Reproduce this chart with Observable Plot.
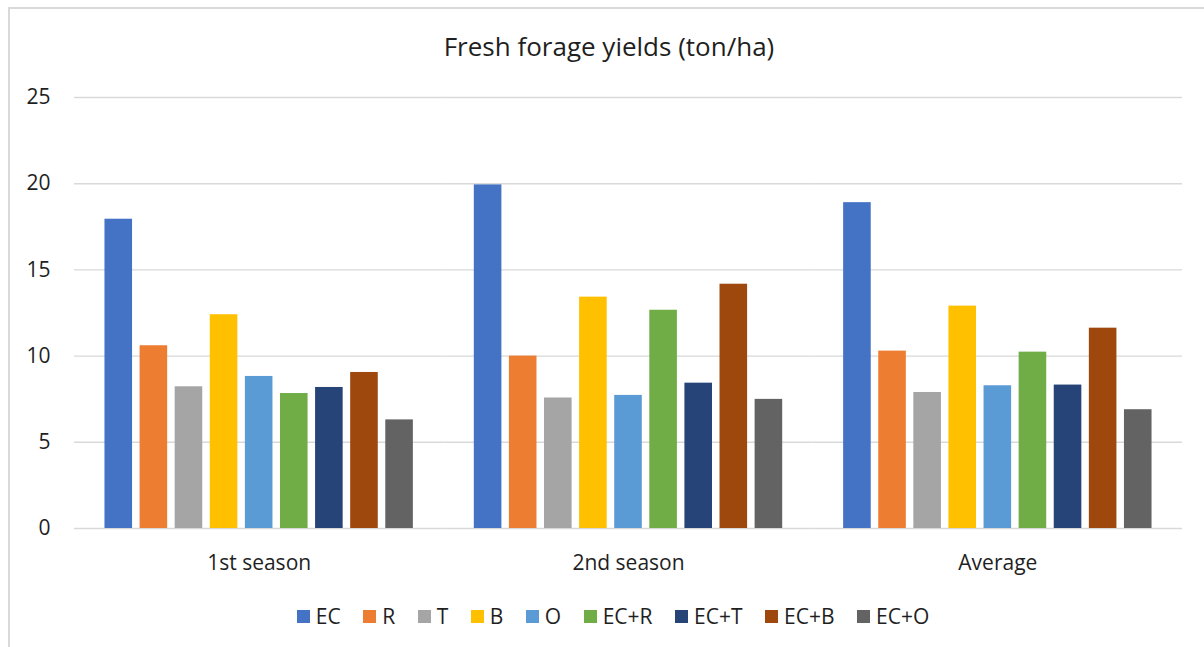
<!DOCTYPE html>
<html>
<head>
<meta charset="utf-8">
<script src="https://cdn.jsdelivr.net/npm/d3@7"></script>
<script src="https://cdn.jsdelivr.net/npm/@observablehq/plot@0.6"></script>
<style>
  html, body { margin: 0; padding: 0; background: #fff; }
  body { width: 1204px; height: 647px; position: relative; overflow: hidden; font-family: "Open Sans", sans-serif; color: #1f1f1f; }
  #frame { position: absolute; left: 8px; top: 7px; width: 1300px; height: 700px; border-top: 2px solid #d9d9d9; border-left: 2px solid #d9d9d9; }
  #title { position: absolute; left: 309px; width: 600px; top: 33px; text-align: center; font-size: 26px; line-height: 26px; white-space: nowrap; }
  #chart { position: absolute; left: 0; top: 70px; }
  #legend { position: absolute; left: 263px; width: 700px; top: 604px; display: flex; justify-content: center; align-items: center; font-size: 21px; line-height: 24px; white-space: nowrap; }
  .item { display: flex; align-items: center; margin: 0 11.25px; }
  .sw { width: 13px; height: 13px; margin-right: 6px; }
</style>
</head>
<body>
<div id="frame"></div>
<div id="title">Fresh forage yields (ton/ha)</div>
<div id="chart"></div>
<div id="legend"></div>
<script>
const seasons = ["1st season", "2nd season", "Average"];
const series = ["EC", "R", "T", "B", "O", "EC+R", "EC+T", "EC+B", "EC+O"];
const colors = ["#4472C4", "#ED7D31", "#A5A5A5", "#FFC000", "#5B9BD5", "#70AD47", "#264478", "#9E480E", "#636363"];
const firstSeason = [17.94, 10.6, 8.22, 12.4, 8.82, 7.83, 8.18, 9.05, 6.3];
const secondSeason = [19.93, 10.0, 7.57, 13.42, 7.72, 12.66, 8.43, 14.17, 7.49];
const average = [18.9, 10.29, 7.89, 12.9, 8.28, 10.23, 8.32, 11.62, 6.89];
const yTicks = [0, 5, 10, 15, 20, 25];

const valuesBySeason = [firstSeason, secondSeason, average];
const data = [];
seasons.forEach((s, i) => series.forEach((k, j) => data.push({season: s, series: k, value: valuesBySeason[i][j]})));

const chart = Plot.plot({
  width: 1204,
  height: 530,
  marginTop: 27,
  marginBottom: 72,
  marginLeft: 74,
  marginRight: 22,
  style: {fontFamily: "Open Sans", fontSize: "21px", color: "#1f1f1f", background: "transparent"},
  fx: {domain: seasons, padding: 0, round: false, label: null, axis: "bottom", tickSize: 0, tickPadding: 27},
  x: {domain: series, paddingInner: 0.214, paddingOuter: 0.868, round: false, axis: null},
  y: {domain: [0, 25], ticks: yTicks, label: null, tickSize: 0, tickPadding: 24},
  color: {domain: series, range: colors},
  marks: [
    Plot.gridY(yTicks, {stroke: "#d9d9d9", strokeOpacity: 1, strokeWidth: 1.4}),
    Plot.barY(data, {fx: "season", x: "series", y: "value", fill: "series"}),
    Plot.axisY(yTicks, {tickSize: 0, tickPadding: 24, fontSize: 21})
  ]
});
document.getElementById("chart").appendChild(chart);

const legend = document.getElementById("legend");
series.forEach((k, j) => {
  const item = document.createElement("div");
  item.className = "item";
  const sw = document.createElement("span");
  sw.className = "sw";
  sw.style.background = colors[j];
  const t = document.createElement("span");
  t.textContent = k;
  item.appendChild(sw);
  item.appendChild(t);
  legend.appendChild(item);
});
</script>
</body>
</html>
